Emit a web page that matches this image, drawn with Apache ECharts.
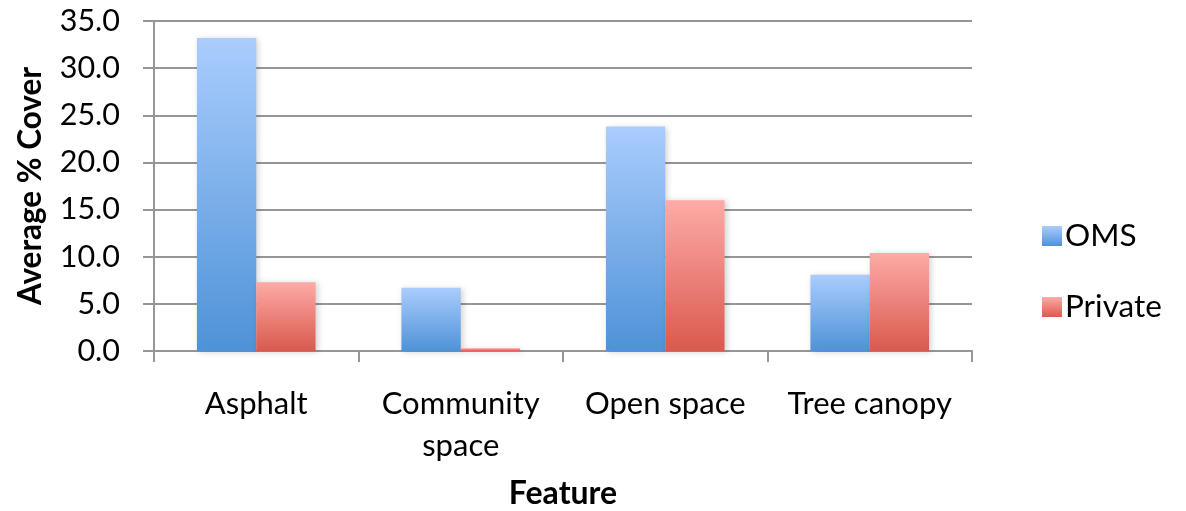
<!DOCTYPE html>
<html>
<head>
<meta charset="utf-8">
<script src="https://cdn.jsdelivr.net/npm/echarts@6/dist/echarts.min.js"></script>
<style>html,body{margin:0;padding:0;background:#fff}#c{width:1186px;height:511px}</style>
</head>
<body>
<div id="c"></div>
<script>
const categories = ['Asphalt', 'Community\nspace', 'Open space', 'Tree canopy'];
const omsValues = [33.2, 6.7, 23.8, 8.1];
const privateValues = [7.3, 0.3, 16.0, 10.4];
const yTicks = { min: 0, max: 35, interval: 5 };

const FONT = 'Lato, "Open Sans", sans-serif';
function grad(top, bottom) {
  return new echarts.graphic.LinearGradient(0, 0, 0, 1, [
    { offset: 0, color: top }, { offset: 1, color: bottom }
  ]);
}
const chart = echarts.init(document.getElementById('c'));
chart.setOption({
  animation: false,
  backgroundColor: '#fff',
  grid: { left: 154, right: 214, top: 21, bottom: 160, containLabel: false, outerBoundsMode: 'none' },
  legend: {
    orient: 'vertical', left: 1037, top: 215, icon: 'rect',
    itemWidth: 20, itemHeight: 20, itemGap: 39,
    textStyle: { fontFamily: FONT, fontSize: 31.5, color: '#000', padding: [0, 0, 0, -2] },
    data: ['OMS', 'Private']
  },
  xAxis: {
    type: 'category', data: categories,
    name: 'Feature', nameLocation: 'middle', nameGap: 127,
    nameTextStyle: { fontFamily: FONT, fontSize: 32, fontWeight: 'bold', color: '#000' },
    axisLine: { lineStyle: { color: '#969696', width: 2 } },
    axisTick: { show: true, length: 11, alignWithLabel: false, lineStyle: { color: '#969696', width: 2 } },
    axisLabel: { fontFamily: FONT, fontSize: 31, color: '#000', margin: 32, lineHeight: 42, interval: 0 }
  },
  yAxis: {
    type: 'value', min: yTicks.min, max: yTicks.max, interval: yTicks.interval,
    name: 'Average % Cover', nameLocation: 'middle', nameGap: 107, nameRotate: 90,
    nameTextStyle: { fontFamily: FONT, fontSize: 31.5, fontWeight: 'bold', color: '#000' },
    axisLine: { show: true, lineStyle: { color: '#969696', width: 2 } },
    axisTick: { show: true, length: 11, lineStyle: { color: '#969696', width: 2 } },
    axisLabel: { fontFamily: FONT, fontSize: 30.5, color: '#000', margin: 34,
      formatter: v => v.toFixed(1) },
    splitLine: { lineStyle: { color: '#969696', width: 2 } }
  },
  series: [
    {
      name: 'OMS', type: 'bar', data: omsValues,
      barGap: '0%', barCategoryGap: '42%',
      itemStyle: { color: grad('#aacdfd', '#4e92d7'), shadowColor: 'rgba(0,0,0,0.18)', shadowBlur: 6, shadowOffsetX: 2, shadowOffsetY: 1 }
    },
    {
      name: 'Private', type: 'bar', data: privateValues,
      itemStyle: { color: grad('#fdaba7', '#da594d'), shadowColor: 'rgba(0,0,0,0.18)', shadowBlur: 6, shadowOffsetX: 2, shadowOffsetY: 1 }
    }
  ]
});
</script>
</body>
</html>
